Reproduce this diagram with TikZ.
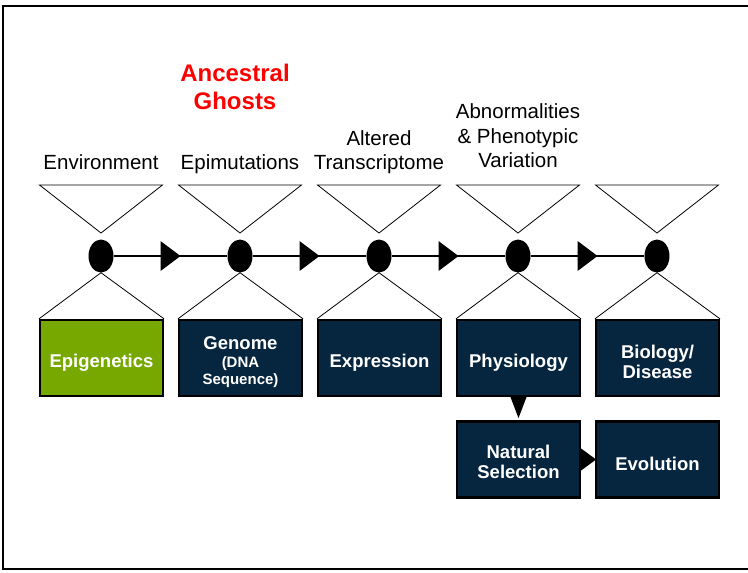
\documentclass[tikz,border=0pt]{standalone}
\usepackage{fontspec}
\setmainfont{Liberation Sans}
\usetikzlibrary{calc,shapes.geometric}
\definecolor{leaf}{HTML}{76A800}
\definecolor{navy}{HTML}{06263F}
\definecolor{ghost}{HTML}{FF0000}
\newcommand{\smallline}[1]{{\fontsize{15}{17}\selectfont #1}}
\begin{document}
\begin{tikzpicture}[x=1pt,y=-1pt,
  dot/.style={ellipse, fill=black, minimum width=25pt, minimum height=33pt, inner sep=0pt},
  stage/.style={draw=black, line width=2.2pt, fill=navy, minimum width=123pt, minimum height=76pt,
    inner sep=0pt},
  stagetext/.style={inner sep=0pt, text=white, align=center, font=\bfseries\fontsize{18.5}{20}\selectfont},
  caption/.style={anchor=south, inner sep=0pt, align=center, font=\fontsize{20.5}{24.5}\selectfont},
  funnel/.style={draw=black, line width=0.8pt, line join=miter},
  link/.style={draw=black, line width=2pt},
  head/.style={fill=black}
]
\useasboundingbox (0,0) rectangle (748,573);
% outer frame, open on the right
\draw[line width=2pt] (748,6) -- (3,6) -- (3,569) -- (748,569);

% timeline dots
\foreach \i in {1,...,5} {
  \node[dot] (d\i) at ({101+139*(\i-1)},256) {};
}

% stage boxes under the dots
\node[stage, fill=leaf] (b1) at (101.5,358) {};
\node[stage] (b2) at (240.5,358) {};
\node[stage] (b3) at (379.5,358) {};
\node[stage] (b4) at (518.5,358) {};
\node[stage] (b5) at (657.5,358) {};
\node[stage] (ns) at (518.5,459.5) {};
\node[stage] (evo) at (657.5,459.5) {};

% box texts, set a little below each box centre
\node[stagetext] (b1t) at ($(b1.center)+(0,5)$) {Epigenetics};
\node[stagetext] (b2t) at ($(b2.center)+(0,4)$) {Genome\\[-2pt]\smallline{(DNA}\\[-3pt]\smallline{Sequence)}};
\node[stagetext] (b3t) at ($(b3.center)+(0,5)$) {Expression};
\node[stagetext] (b4t) at ($(b4.center)+(0,5)$) {Physiology};
\node[stagetext] (b5t) at ($(b5.center)+(0,4)$) {Biology/\\Disease};
\node[stagetext] (nst) at ($(ns.center)+(0,2.5)$) {Natural\\Selection};
\node[stagetext] (evot) at ($(evo.center)+(0,4)$) {Evolution};

% funnels: open triangle above each dot, wedge from each dot down to its box
\foreach \i in {1,...,5} {
  \coordinate (tl\i) at ($(d\i.center)+(-61.5,-71)$);
  \coordinate (tr\i) at ($(d\i.center)+(61.5,-71)$);
  \coordinate (tp\i) at ($(d\i.center)+(0,-23)$);
  \draw[funnel] (tl\i) -- (tr\i) -- (tp\i) -- cycle;
  \draw[funnel] (b\i.north west) -- (d\i.south) -- (b\i.north east);
}

% timeline links with arrowheads halfway
\foreach \i/\j in {1/2,2/3,3/4,4/5} {
  \draw[link] (d\i.east) -- (d\j.west);
  \coordinate (m\i) at ($(d\i.center)!0.5!(d\j.center)$);
  \fill[head] ($(m\i)+(-10,-15)$) -- ($(m\i)+(10,0)$) -- ($(m\i)+(-10,15)$) -- cycle;
}

% arrowheads between the lower boxes
\fill[head] ($(b4.south)+(-8,0)$) -- ($(b4.south)+(8,0)$) -- ($(b4.south)+(0,21)$) -- cycle;
\fill[head] ($(ns.east)+(0,-11)$) -- ($(ns.east)+(15,0)$) -- ($(ns.east)+(0,11)$) -- cycle;

% captions above the funnels
\node[caption] (c1) at (101,170) {Environment};
\node[caption] (c2) at (240,174) {Epimutations};
\node[caption] (c3) at (379,174) {Altered\\Transcriptome};
\node[caption] (c4) at (518,168) {Abnormalities\\\& Phenotypic\\Variation};
\node[anchor=south, inner sep=0pt, align=center, text=ghost,
  font=\bfseries\fontsize{24}{28}\selectfont] (ag) at (235,110) {Ancestral\\Ghosts};
\end{tikzpicture}
\end{document}
